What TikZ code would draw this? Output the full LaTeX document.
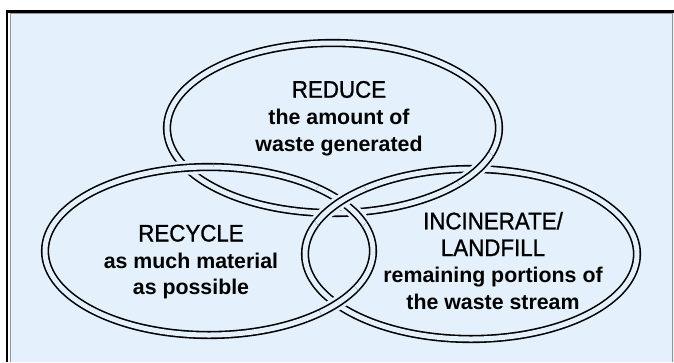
\documentclass[tikz,border=0pt]{standalone}
\usepackage{fontspec}
\setmainfont{Liberation Sans}
\newfontfamily\headfont[FakeBold=1,FakeStretch=0.93]{Liberation Sans}

\definecolor{panel}{RGB}{228,240,251}
\definecolor{bevel}{RGB}{150,150,150}

\tikzset{
	ring/.style={double=panel,double distance=3.75pt,line width=1.2pt},
	gapring/.style={draw=panel,line width=10.5pt},
	ringtext/.style={anchor=north,inner sep=0pt,align=center,font=\bfseries\fontsize{16}{20}\selectfont}
}
\newcommand{\headline}[1]{{\headfont\mdseries\fontsize{18}{20}\selectfont #1}}

\begin{document}
\begin{tikzpicture}[x=0.75pt,y=-0.75pt]
	\fill[white] (0,0) rectangle (674,362);
	\useasboundingbox (0,0) rectangle (674,362);
	\fill[panel] (10,13) rectangle (674,362);
	\draw[bevel,line width=1pt] (10.5,362) -- (10.5,13.5) -- (672.8,13.5) -- (672.8,362);
	\draw[line width=2pt] (7,362) -- (7,11.3) -- (674,11.3);

	\coordinate (top) at (333,128);
	\coordinate (left) at (209,251);
	\coordinate (right) at (471,254);

	\draw[ring] (top) ellipse (166 and 85);
	\draw[ring] (left) ellipse (164 and 84);
	\draw[ring] (right) ellipse (166 and 85);

	% left ring passes over the top ring
	\begin{scope}
		\clip (192,169) circle (22);
		\draw[gapring] (left) ellipse (164 and 84);
		\draw[ring] (left) ellipse (164 and 84);
	\end{scope}

	% top ring passes over the right ring
	\begin{scope}
		\clip (476,170) circle (22);
		\draw[gapring] (top) ellipse (166 and 85);
		\draw[ring] (top) ellipse (166 and 85);
	\end{scope}

	% middle: top ring under both, right over left
	\begin{scope}
		\clip (341,206) circle (30);
		\draw[gapring] (left) ellipse (164 and 84);
		\draw[ring] (left) ellipse (164 and 84);
		\draw[gapring] (right) ellipse (166 and 85);
		\draw[ring] (right) ellipse (166 and 85);
	\end{scope}

	% bottom: left over right
	\begin{scope}
		\clip (340,303) circle (22);
		\draw[gapring] (left) ellipse (164 and 84);
		\draw[ring] (left) ellipse (164 and 84);
	\end{scope}

	\node[ringtext] (reduce) at (339,80.7) {\headline{REDUCE}\\the amount of\\waste generated};
	\node[ringtext] (recycle) at (191,224.5) {\headline{RECYCLE}\\as much material\\as possible};
	\node[ringtext] (incinerate) at (493,211.7) {\headline{INCINERATE/}\\\headline{LANDFILL}\\remaining portions of\\the waste stream};
\end{tikzpicture}
\end{document}
